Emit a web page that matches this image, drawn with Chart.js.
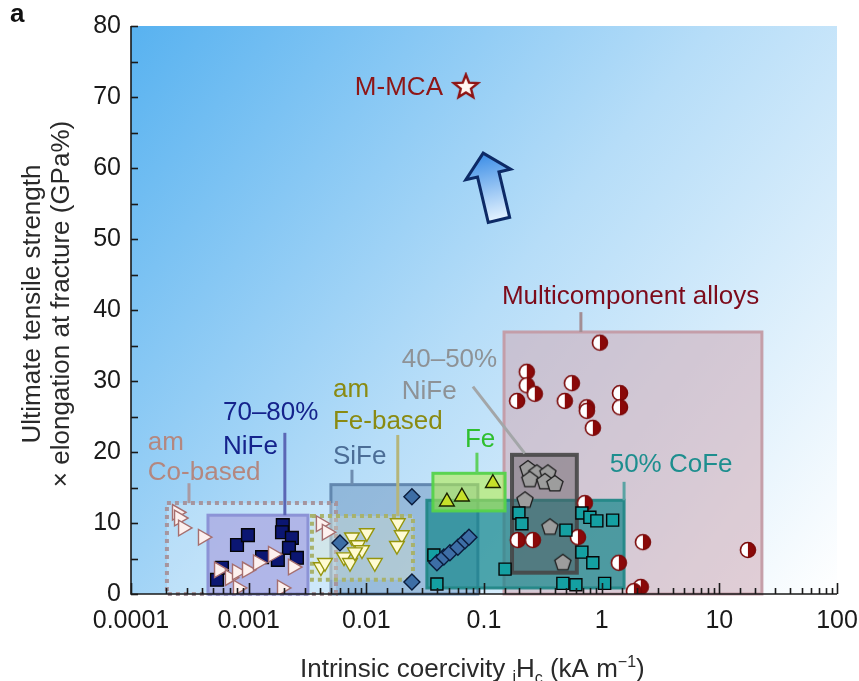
<!DOCTYPE html>
<html>
<head>
<meta charset="utf-8">
<script src="https://cdn.jsdelivr.net/npm/chart.js@4.4.0/dist/chart.umd.min.js"></script>
<style>
  html, body { margin: 0; padding: 0; background: #fff; }
  #wrap { width: 859px; height: 681px; }
</style>
</head>
<body>
<div id="wrap"><canvas id="chart" width="859" height="681"></canvas></div>
<script>
// x: intrinsic coercivity (kA/m), y: UTS x elongation (GPa%)
const coBasedX = [0.000246, 0.000256, 0.000277, 0.000409, 0.000560, 0.000693, 0.000796, 0.000968, 0.00120, 0.00161, 0.00238, 0.000811, 0.00192, 0.00411, 0.00462];
const coBasedY = [11.5, 10.7, 9.3, 8.0, 3.4, 2.3, 3.1, 3.4, 4.4, 5.6, 3.8, 0.85, 0.85, 9.9, 8.7];

const niFe7080X = [0.000538, 0.000593, 0.000796, 0.000986, 0.00130, 0.00177, 0.00195, 0.00192, 0.00233, 0.00220, 0.00257];
const niFe7080Y = [2.0, 3.7, 6.9, 8.3, 5.2, 4.8, 9.7, 8.7, 7.9, 6.5, 5.1];

const feBasedX = [0.00411, 0.00445, 0.00646, 0.00726, 0.00755, 0.00849, 0.0101, 0.00918, 0.00800, 0.0118, 0.0185, 0.0200, 0.0182];
const feBasedY = [3.8, 4.4, 5.2, 4.4, 8.0, 6.9, 8.6, 6.2, 5.9, 4.4, 10.0, 8.3, 6.8];

const siFeX = [0.00597, 0.0244, 0.0244, 0.0398, 0.0456, 0.0513, 0.0600, 0.0689, 0.0745];
const siFeY = [7.2, 13.7, 1.7, 4.4, 5.2, 5.8, 6.6, 7.5, 8.0];

const feX = [0.0484, 0.0649, 0.119];
const feY = [13.0, 13.7, 15.6];

const coFeX = [0.0375, 0.0398, 0.151, 0.198, 0.210, 0.497, 0.679, 0.841, 0.468, 0.604, 1.06, 0.679, 0.794, 0.910, 1.24];
const coFeY = [5.5, 1.4, 3.5, 11.4, 9.9, 9.0, 5.9, 4.4, 1.5, 1.3, 1.5, 11.4, 10.8, 10.3, 10.4];

const niFe4050X = [0.236, 0.281, 0.349, 0.245, 0.329, 0.400, 0.223, 0.363, 0.468];
const niFe4050Y = [17.6, 17.0, 17.0, 16.1, 15.8, 15.5, 13.2, 9.4, 4.4];

const multiX = [0.966, 0.231, 0.231, 0.270, 0.191, 0.558, 0.486, 0.748, 0.748, 1.43, 1.43, 0.841, 0.719, 0.194, 0.260, 0.628, 2.24, 17.5, 1.40, 2.15, 1.88];
const multiY = [35.4, 31.3, 29.4, 28.2, 27.2, 29.7, 27.2, 26.3, 25.8, 28.3, 26.3, 23.4, 12.8, 7.6, 7.6, 8.0, 7.3, 6.2, 4.4, 1.0, 0.4];

const mmcaX = [0.0701];
const mmcaY = [71.4];

// group ranges [xmin, xmax, ymin, ymax]
const coBasedRange = [0.000202, 0.00552, 0, 12.8];
const niFe7080Range = [0.000451, 0.00319, 0, 11.1];
const feBasedRange = [0.00345, 0.0249, 2.0, 11.0];
const siFeRange = [0.0050, 0.0887, 0, 15.4];
const feRange = [0.0368, 0.151, 11.7, 17.0];
const coFeRange = [0.0327, 1.55, 0.85, 13.2];
const niFe4050Range = [0.173, 0.615, 3.0, 19.6];
const multiRange = [0.148, 23.0, 0, 36.9];

const xTickLabels = ['0.0001', '0.001', '0.01', '0.1', '1', '10', '100'];
const yTickLabels = ['0', '10', '20', '30', '40', '50', '60', '70', '80'];

const FONT = '"Liberation Sans", Arial, Helvetica, sans-serif';

function pts(xs, ys) { return xs.map((x, i) => ({ x: x, y: ys[i] })); }

function mark(size, draw) {
  const c = document.createElement('canvas');
  c.width = c.height = size;
  draw(c.getContext('2d'), size / 2);
  return c;
}

const halfDot = mark(20, (g, m) => {
  const r = 7.5;
  g.beginPath(); g.arc(m, m, r, Math.PI / 2, Math.PI * 1.5); g.closePath();
  g.fillStyle = '#ffffff'; g.fill();
  g.beginPath(); g.arc(m, m, r, -Math.PI / 2, Math.PI / 2); g.closePath();
  g.fillStyle = '#8a0909'; g.fill();
  g.beginPath(); g.arc(m, m, r, 0, Math.PI * 2);
  g.lineWidth = 1.6; g.strokeStyle = '#7a0808'; g.stroke();
});

const pentagon = mark(22, (g, m) => {
  const r = 8.5;
  g.beginPath();
  for (let i = 0; i < 5; i++) {
    const a = -Math.PI / 2 + i * 2 * Math.PI / 5;
    g.lineTo(m + r * Math.cos(a), m + r * Math.sin(a));
  }
  g.closePath();
  g.fillStyle = '#9d9d9d'; g.fill();
  g.lineWidth = 1.3; g.strokeStyle = '#1c1c1c'; g.stroke();
});

const star = mark(30, (g, m) => {
  g.beginPath();
  for (let i = 0; i < 10; i++) {
    const r = i % 2 ? 5.4 : 12.5;
    const a = -Math.PI / 2 + i * Math.PI / 5;
    g.lineTo(m + r * Math.cos(a), m + r * Math.sin(a));
  }
  g.closePath();
  g.fillStyle = '#fff6f2'; g.fill();
  g.lineWidth = 2.4; g.lineJoin = 'miter'; g.strokeStyle = '#8e1212'; g.stroke();
});

const boxes = [
  { r: multiRange, fill: 'rgba(208,170,180,0.55)', stroke: 'rgba(195,155,165,0.95)', lw: 3 },
  { r: siFeRange, fill: 'rgba(100,140,185,0.45)', stroke: 'rgba(95,132,172,0.95)', lw: 3 },
  { r: coFeRange, fill: 'rgba(18,134,138,0.7)', stroke: 'rgba(35,135,135,0.95)', lw: 3 },
  { r: feRange, fill: 'rgba(178,236,80,0.6)', stroke: 'rgba(85,210,75,0.95)', lw: 3 },
  { r: coBasedRange, fill: 'rgba(255,255,255,0.25)', stroke: '#a6959e', lw: 4, dash: [4, 4] },
  { r: niFe7080Range, fill: 'rgba(172,174,228,0.85)', stroke: '#8c93d6', lw: 3 },
  { r: feBasedRange, fill: 'rgba(225,228,200,0.3)', stroke: '#a8b26c', lw: 4, dash: [4, 4] },
  { r: niFe4050Range, fill: 'rgba(90,80,85,0.42)', stroke: 'rgba(70,70,70,0.9)', lw: 4 }
];

const notes = [
  { text: ['am', 'Co-based'], x: 0.000139, y: [21.3, 17.0], color: '#b4877f' },
  { text: ['70–80%', 'NiFe'], x: 0.000605, y: [25.5, 20.7], color: '#15238c' },
  { text: ['am', 'Fe-based'], x: 0.0052, y: [28.7, 24.2], color: '#8a8a12' },
  { text: ['SiFe'], x: 0.0052, y: [19.3], color: '#4b6d96' },
  { text: ['Fe'], x: 0.0689, y: [21.7], color: '#2fbf2f' },
  { text: ['50% CoFe'], x: 1.17, y: [18.2], color: '#1d8e8e' },
  { text: ['40–50%', 'NiFe'], x: 0.0200, y: [33.0, 28.5], color: '#8e9296' },
  { text: ['Multicomponent alloys'], x: 0.142, y: [41.8], color: '#7c0b1b' },
  { text: ['M-MCA'], x: 0.0448, y: [71.3], color: '#8e1616', align: 'right' }
];

const leaders = [
  { x: [0.000311, 0.000311], y: [15.6, 12.8], color: '#a99aa2' },
  { x: [0.00203, 0.00203], y: [22.7, 11.1], color: '#5b67b5' },
  { x: [0.0185, 0.0185], y: [22.4, 11.0], color: '#b5b57a' },
  { x: [0.00755, 0.00755], y: [17.5, 15.4], color: '#6e8db0' },
  { x: [0.0871, 0.0871], y: [19.9, 17.0], color: '#5fd05f' },
  { x: [1.55, 1.55], y: [15.8, 13.2], color: '#5aa3a3' },
  { x: [0.0805, 0.222], y: [29.2, 19.8], color: '#a3a6a8' },
  { x: [0.666, 0.666], y: [39.7, 36.9], color: '#a38e94' }
];

const arrowTail = [0.134, 52.7];
const arrowTip = [0.0984, 62.1];

const decor = {
  id: 'decor',
  beforeDraw(chart) {
    const { ctx, chartArea: a } = chart;
    ctx.save();
    const g = ctx.createLinearGradient(a.left, a.top, a.right, a.bottom);
    g.addColorStop(0, '#58b2f0');
    g.addColorStop(0.5, '#b6ddf8');
    g.addColorStop(1, '#ffffff');
    ctx.fillStyle = g;
    ctx.fillRect(a.left, a.top, a.right - a.left, a.bottom - a.top);
    ctx.restore();
  },
  beforeDatasetsDraw(chart) {
    const { ctx, scales: { x, y } } = chart;
    ctx.save();
    boxes.forEach(b => {
      const x0 = x.getPixelForValue(b.r[0]), x1 = x.getPixelForValue(b.r[1]);
      const y0 = y.getPixelForValue(b.r[3]), y1 = y.getPixelForValue(b.r[2]);
      ctx.fillStyle = b.fill;
      ctx.fillRect(x0, y0, x1 - x0, y1 - y0);
      ctx.setLineDash(b.dash || []);
      ctx.lineWidth = b.lw;
      ctx.strokeStyle = b.stroke;
      ctx.strokeRect(x0, y0, x1 - x0, y1 - y0);
    });
    ctx.setLineDash([]);
    leaders.forEach(l => {
      ctx.beginPath();
      ctx.moveTo(x.getPixelForValue(l.x[0]), y.getPixelForValue(l.y[0]));
      ctx.lineTo(x.getPixelForValue(l.x[1]), y.getPixelForValue(l.y[1]));
      ctx.lineWidth = 3;
      ctx.strokeStyle = l.color;
      ctx.stroke();
    });
    ctx.font = '26px ' + FONT;
    ctx.textBaseline = 'middle';
    notes.forEach(n => {
      ctx.fillStyle = n.color;
      ctx.textAlign = n.align || 'left';
      n.text.forEach((t, i) => ctx.fillText(t, x.getPixelForValue(n.x), y.getPixelForValue(n.y[i])));
    });
    // arrow
    const tx = x.getPixelForValue(arrowTip[0]), ty = y.getPixelForValue(arrowTip[1]);
    const bx = x.getPixelForValue(arrowTail[0]), by = y.getPixelForValue(arrowTail[1]);
    const len = Math.hypot(tx - bx, ty - by);
    const ux = (tx - bx) / len, uy = (ty - by) / len, nx = -uy, ny = ux;
    const sw = 11, hw = 23, hl = 22;
    const hx = tx - ux * hl, hy = ty - uy * hl;
    ctx.beginPath();
    ctx.moveTo(tx, ty);
    ctx.lineTo(hx + nx * hw, hy + ny * hw);
    ctx.lineTo(hx + nx * sw, hy + ny * sw);
    ctx.lineTo(bx + nx * sw, by + ny * sw);
    ctx.lineTo(bx - nx * sw, by - ny * sw);
    ctx.lineTo(hx - nx * sw, hy - ny * sw);
    ctx.lineTo(hx - nx * hw, hy - ny * hw);
    ctx.closePath();
    const ag = ctx.createLinearGradient(tx, ty, bx, by);
    ag.addColorStop(0, '#3b8de6');
    ag.addColorStop(1, '#e4f3ff');
    ctx.fillStyle = ag;
    ctx.fill();
    ctx.lineJoin = 'miter';
    ctx.lineWidth = 3;
    ctx.strokeStyle = '#0d2a66';
    ctx.stroke();
    ctx.restore();
  },
  afterDraw(chart) {
    const { ctx, chartArea: a, scales: { x, y } } = chart;
    ctx.save();
    ctx.strokeStyle = '#1a1a1a';
    ctx.lineWidth = 1.6;
    ctx.beginPath();
    ctx.moveTo(a.left, a.top); ctx.lineTo(a.left, a.bottom); ctx.lineTo(a.right, a.bottom);
    ctx.stroke();
    x.ticks.forEach(t => {
      const l = Math.log10(t.value);
      const major = Math.abs(l - Math.round(l)) < 1e-6;
      const px = Math.round(x.getPixelForValue(t.value)) + 0.5;
      ctx.beginPath();
      ctx.moveTo(px, a.bottom); ctx.lineTo(px, a.bottom - (major ? 11 : 6));
      ctx.stroke();
    });
    y.ticks.forEach(t => {
      const py = Math.round(y.getPixelForValue(t.value)) + 0.5;
      ctx.beginPath();
      ctx.moveTo(a.left, py); ctx.lineTo(a.left + 7, py);
      ctx.stroke();
    });
    // axis titles
    ctx.fillStyle = '#2a2a2a';
    ctx.textBaseline = 'middle';
    ctx.textAlign = 'center';
    ctx.font = '26px ' + FONT;
    ctx.save();
    ctx.translate(33, 304);
    ctx.rotate(-Math.PI / 2);
    ctx.fillText('Ultimate tensile strength', 0, 0);
    ctx.restore();
    ctx.save();
    ctx.translate(62, 304);
    ctx.rotate(-Math.PI / 2);
    ctx.fillText('× elongation at fracture (GPa%)', 0, 0);
    ctx.restore();
    ctx.textAlign = 'left';
    ctx.textBaseline = 'alphabetic';
    const big = '26px ' + FONT, small = '16px ' + FONT;
    let cx = 300; const base = 677;
    const seg = (t, f, dy) => { ctx.font = f; ctx.fillText(t, cx, base + dy); cx += ctx.measureText(t).width; };
    seg('Intrinsic coercivity ', big, 0);
    seg('i', small, 5);
    seg('H', big, 0);
    seg('c', small, 6);
    seg(' (kA m', big, 0);
    seg('−1', small, -10);
    seg(')', big, 0);
    ctx.font = 'bold 26px ' + FONT;
    ctx.fillStyle = '#111';
    ctx.fillText('a', 10, 22);
    ctx.restore();
  }
};

const ds = (label, data, opts) => Object.assign({ label, data, borderWidth: 1.4 }, opts);

new Chart(document.getElementById('chart'), {
  type: 'scatter',
  data: {
    datasets: [
      ds('am Co-based', pts(coBasedX, coBasedY), { pointStyle: 'triangle', rotation: 90, pointRadius: 9, backgroundColor: '#fdf1ef', borderColor: '#a66f6f' }),
      ds('70–80% NiFe', pts(niFe7080X, niFe7080Y), { pointStyle: 'rect', pointRadius: 9, backgroundColor: '#0b1672', borderColor: '#050505' }),
      ds('am Fe-based', pts(feBasedX, feBasedY), { pointStyle: 'triangle', rotation: 180, pointRadius: 8.5, backgroundColor: '#fffbd2', borderColor: '#95950c' }),
      ds('SiFe', pts(siFeX, siFeY), { pointStyle: 'rectRot', pointRadius: 8, backgroundColor: '#3d6ea6', borderColor: '#0a1c3c' }),
      ds('Fe', pts(feX, feY), { pointStyle: 'triangle', pointRadius: 8.5, backgroundColor: '#c6e02a', borderColor: '#1a2200' }),
      ds('50% CoFe', pts(coFeX, coFeY), { pointStyle: 'rect', pointRadius: 8.5, backgroundColor: '#14a0a2', borderColor: '#050505' }),
      ds('40–50% NiFe', pts(niFe4050X, niFe4050Y), { pointStyle: pentagon }),
      ds('Multicomponent alloys', pts(multiX, multiY), { pointStyle: halfDot }),
      ds('M-MCA', pts(mmcaX, mmcaY), { pointStyle: star })
    ]
  },
  options: {
    responsive: false,
    devicePixelRatio: 1,
    animation: false,
    events: [],
    layout: { padding: { top: 26, right: 22, left: 0, bottom: 0 } },
    plugins: { legend: { display: false }, tooltip: { enabled: false } },
    scales: {
      x: {
        type: 'logarithmic', min: 0.0001, max: 100,
        grid: { display: false, drawTicks: false }, border: { display: false },
        ticks: {
          autoSkip: false, maxRotation: 0, padding: 12, color: '#1a1a1a',
          font: { family: FONT, size: 25 },
          callback(v) { const l = Math.log10(v); return Math.abs(l - Math.round(l)) < 1e-6 ? xTickLabels[Math.round(l) + 4] : ''; }
        },
        afterFit(s) { s.height = 87; s.paddingLeft = 0; s.paddingRight = 0; }
      },
      y: {
        min: 0, max: 80,
        grid: { display: false, drawTicks: false }, border: { display: false },
        ticks: {
          stepSize: 5, autoSkip: false, padding: 10, color: '#1a1a1a',
          font: { family: FONT, size: 25 },
          callback(v) { return v % 10 === 0 ? yTickLabels[v / 10] : ''; }
        },
        afterFit(s) { s.width = 131; s.paddingTop = 0; s.paddingBottom = 0; }
      }
    }
  },
  plugins: [decor]
});
</script>
</body>
</html>
